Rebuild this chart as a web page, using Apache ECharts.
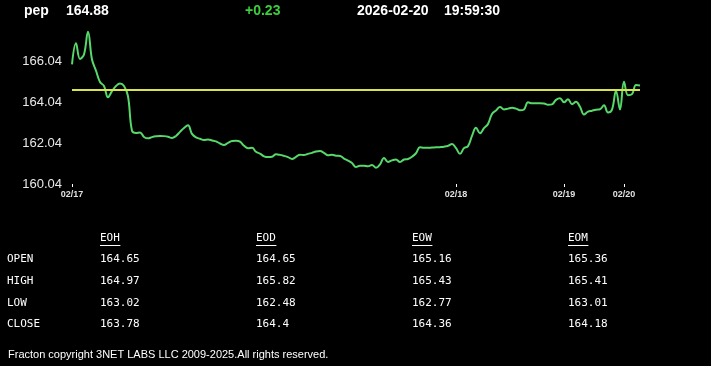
<!DOCTYPE html>
<html>
<head>
<meta charset="utf-8">
<script src="https://cdn.jsdelivr.net/npm/echarts@6/dist/echarts.min.js"></script>
<style>
html,body{margin:0;padding:0;background:#000;}
#c{width:711px;height:366px;}
</style>
</head>
<body>
<div id="c"></div>
<script>
// ---- header ----
const symbol = 'pep';
const lastPrice = '164.88';
const change = '+0.23';
const quoteDate = '2026-02-20';
const quoteTime = '19:59:30';

// ---- chart data ----
const prices = [
  165.91,166.95,166.18,166.40,167.52,166.15,165.60,165.05,164.85,164.30,
  164.60,164.85,164.97,164.85,164.35,162.65,162.54,162.57,162.35,162.28,
  162.34,162.38,162.40,162.39,162.36,162.30,162.40,162.60,162.79,162.92,
  162.50,162.33,162.26,162.20,162.22,162.18,162.13,162.03,161.96,162.06,
  162.15,162.16,162.12,161.92,161.80,161.82,161.62,161.53,161.40,161.36,
  161.38,161.50,161.47,161.42,161.36,161.27,161.37,161.48,161.46,161.52,
  161.57,161.64,161.66,161.57,161.45,161.47,161.43,161.42,161.29,161.19,
  161.07,160.87,160.94,160.94,160.91,160.97,160.84,161.00,161.32,161.12,
  161.20,161.24,161.12,161.24,161.27,161.38,161.55,161.84,161.82,161.82,
  161.83,161.84,161.85,161.87,161.91,162.00,161.80,161.52,161.80,161.90,
  162.40,162.80,162.53,162.78,162.99,163.48,163.65,163.82,163.70,163.74,
  163.78,163.74,163.66,163.70,164.05,164.00,164.00,164.00,163.99,163.93,
  163.95,164.17,164.25,164.05,164.20,163.96,164.08,163.83,163.45,163.59,
  163.64,163.69,163.71,163.90,163.55,163.69,164.62,163.70,165.06,164.40,
  164.45,164.90,164.88
];
const refLevel = 164.65;
const tickIndex = [0, 96, 123, 138];
const tickLabels = ['02/17', '02/18', '02/19', '02/20'];
const yTickValues = [160.04, 162.04, 164.04, 166.04];
const yMin = 160.04, yMax = 167.6;

// ---- table ----
const tableCols = ['EOH', 'EOD', 'EOW', 'EOM'];
const tableRows = ['OPEN', 'HIGH', 'LOW', 'CLOSE'];
const eohVals = [164.65, 164.97, 163.02, 163.78];
const eodVals = [164.65, 165.82, 162.48, 164.4];
const eowVals = [165.16, 165.43, 162.77, 164.36];
const eomVals = [165.36, 165.41, 163.01, 164.18];
const footer = 'Fracton copyright 3NET LABS LLC 2009-2025.All rights reserved.';

const categories = prices.map((_, i) => {
  const k = tickIndex.indexOf(i);
  return k >= 0 ? tickLabels[k] : '';
});
const isTick = (i) => tickIndex.indexOf(i) >= 0;

const headFont = 'bold 14px "Liberation Sans", Arial, sans-serif';
const monoFont = '11px "DejaVu Sans Mono", "Liberation Mono", monospace';

const graphics = [];
function txt(x, y, text, font, fill, align) {
  graphics.push({type: 'text', left: undefined, x: x, y: y,
    style: {text: text, font: font, fill: fill, textAlign: align || 'left', textVerticalAlign: 'middle'}});
}
txt(24, 11, symbol, headFont, '#fff');
txt(66, 11, lastPrice, headFont, '#fff');
txt(245, 11, change, headFont, '#3ccf3c');
txt(357, 11, quoteDate, headFont, '#fff');
txt(444, 11, quoteTime, headFont, '#fff');

const colX = [100, 256, 412, 568];
const rowY = [259, 281, 303, 324];
const colVals = [eohVals, eodVals, eowVals, eomVals];
tableCols.forEach((c, j) => {
  txt(colX[j], 238, c, monoFont, '#fff');
  graphics.push({type: 'line', shape: {x1: colX[j], y1: 245.5, x2: colX[j] + c.length * 6.8, y2: 245.5},
    style: {stroke: '#fff', lineWidth: 1}});
});
tableRows.forEach((r, i) => {
  txt(7, rowY[i], r, monoFont, '#fff');
  colVals.forEach((vals, j) => txt(colX[j], rowY[i], String(vals[i]), monoFont, '#fff'));
});
txt(8, 355, footer, '11px "Liberation Sans", Arial, sans-serif', '#fff');

const chart = echarts.init(document.getElementById('c'), null, {renderer: 'canvas'});
chart.setOption({
  backgroundColor: '#000',
  animation: false,
  grid: {left: 72, right: 71, top: 30, bottom: 182, containLabel: false},
  xAxis: {
    type: 'category', data: categories, boundaryGap: false,
    axisLine: {show: false},
    axisTick: {show: true, interval: (i) => isTick(i), length: 3, lineStyle: {color: '#fff', width: 1}},
    axisLabel: {interval: (i) => isTick(i), color: '#e0e0e0', fontSize: 9, fontWeight: 'bold',
      fontFamily: '"Liberation Sans", Arial, sans-serif', margin: 6},
    splitLine: {show: false}
  },
  yAxis: {
    type: 'value', min: yMin, max: yMax, scale: true,
    axisLine: {show: false}, axisTick: {show: false}, splitLine: {show: false},
    axisLabel: {customValues: yTickValues, color: '#e8e8e8', fontSize: 13,
      fontFamily: '"Liberation Sans", Arial, sans-serif', margin: 10,
      formatter: (v) => v.toFixed(2)}
  },
  series: [{
    type: 'line', data: prices, smooth: 0.4, symbol: 'none',
    lineStyle: {color: '#56d86a', width: 2},
    markLine: {silent: true, symbol: 'none', label: {show: false},
      lineStyle: {color: '#d9e44a', width: 2, type: 'solid'},
      data: [{yAxis: refLevel}]}
  }],
  graphic: graphics
});
</script>
</body>
</html>
